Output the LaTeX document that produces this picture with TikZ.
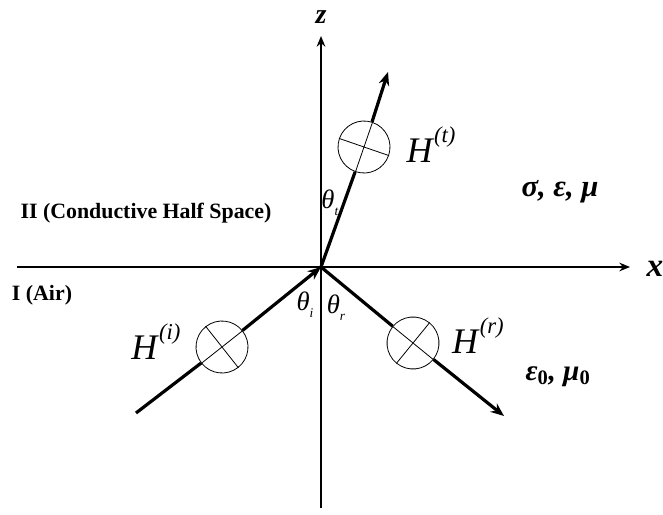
\documentclass[tikz,border=0pt]{standalone}
\usepackage{fontspec}
\setmainfont{Liberation Serif}
\usetikzlibrary{arrows.meta}

\newcommand{\fld}[1]{\textit{H}\raisebox{0.55em}{\fontsize{17}{17}\selectfont\textit{(#1)}}}
\newcommand{\ang}[1]{\textit{θ}\raisebox{-0.25em}{\fontsize{10}{10}\selectfont\textit{#1}}}

\begin{document}
\begin{tikzpicture}[
  x=0.75pt, y=-0.75pt,
  axis/.style={line width=1.3pt, -{Stealth[length=8pt,width=6.5pt]}},
  ray/.style={line width=2.4pt},
  raytip/.style={ray, -{Stealth[length=10pt,width=8pt]}},
  hcirc/.style={circle, draw, line width=0.6pt, minimum size=39pt, inner sep=0pt},
  lab/.style={font=\bfseries\fontsize{16.4}{19}\selectfont},
  mat/.style={font=\bfseries\itshape\fontsize{23}{26}\selectfont},
  fname/.style={font=\fontsize{27}{30}\selectfont, inner sep=0pt},
  angl/.style={font=\fontsize{20}{22}\selectfont, inner sep=0pt}
]
\useasboundingbox (0,0) rectangle (663,514);

% axes
\coordinate (O) at (321,267);
\coordinate (zb) at (321,508);
\coordinate (zt) at (321,36);
\coordinate (xl) at (17,267);
\coordinate (xr) at (630,267);
\draw[axis] (zb) -- (zt);
\draw[axis] (xl) -- (xr);
\node[mat, font=\bfseries\itshape\fontsize{21}{22}\selectfont, anchor=base, inner sep=0pt] (zlab) at (321,23) {z};
\node[mat, font=\bfseries\itshape\fontsize{25}{26}\selectfont, anchor=base, inner sep=0pt] (xlab) at (655,276) {x};

% incident, transmitted and reflected rays
\coordinate (inc) at (136,413);
\coordinate (tr) at (388,72);
\coordinate (rf) at (504,416);
\node[hcirc, rotate=38.3] (hi) at (222,347) {};
\node[hcirc, rotate=71] (ht) at (364,147) {};
\node[hcirc, rotate=-39.2] (hr) at (413,343) {};
\foreach \c in {hi,ht,hr}
  \draw[line width=0.6pt] (\c.north) -- (\c.south) (\c.east) -- (\c.west);
\draw[ray] (inc) -- (hi);
\draw[raytip] (hi) -- (O);
\draw[ray] (O) -- (ht);
\draw[raytip] (ht) -- (tr);
\draw[ray] (O) -- (hr);
\draw[raytip] (hr) -- (rf);

% field labels
\node[fname] (Hi) at (156,342) {\fld{i}};
\node[fname] (Ht) at (431,145) {\fld{t}};
\node[fname] (Hr) at (478,336) {\fld{r}};

% angles
\node[angl] (tht) at (330,203) {\ang{t}};
\node[angl] (thi) at (305,305) {\ang{i}};
\node[angl] (thr) at (336,308) {\ang{r}};

% regions
\node[lab] (reg2) at (146,213) {II (Conductive Half Space)};
\node[lab] (reg1) at (42,295) {I (Air)};
\node[mat] (med2) at (560,192) {σ, ε, μ};
\node[mat, font=\bfseries\itshape\fontsize{22}{24}\selectfont] (med1) at (558,377) {ε\textsubscript{\upshape 0}, μ\textsubscript{\upshape 0}};
\end{tikzpicture}
\end{document}
